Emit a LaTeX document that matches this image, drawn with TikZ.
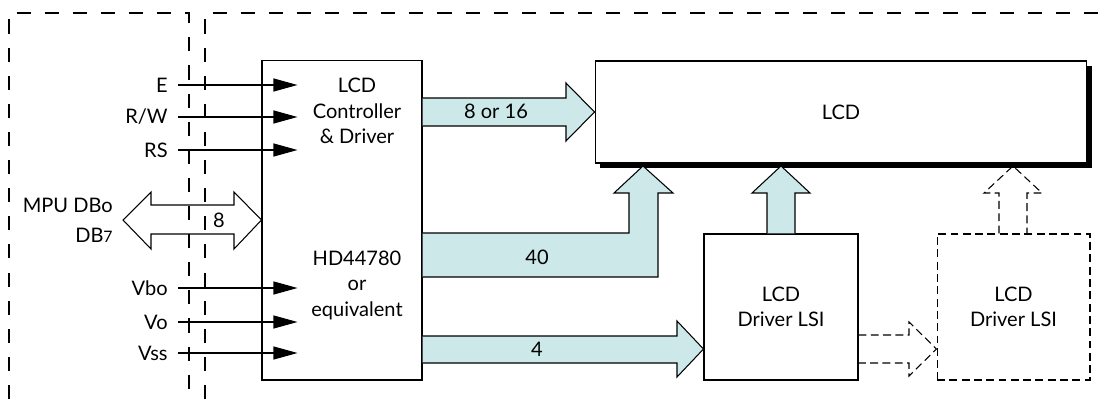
\documentclass[tikz,border=0pt]{standalone}
\usepackage{fontspec}
\setmainfont{Lato}
\usetikzlibrary{arrows.meta, positioning, shadows}

\definecolor{busfill}{RGB}{204,232,232}

\tikzset{
  box/.style={draw, fill=white, line width=0.6pt, align=center},
  ghostbox/.style={draw, line width=0.6pt, dash pattern=on 4.5pt off 2.5pt, align=center},
  sig/.style={line width=0.6pt, -{Triangle[length=0.48cm, width=0.26cm]}},
  siglabel/.style={anchor=east, inner sep=0pt},
  bus/.style={fill=busfill, draw, line width=0.6pt},
  ghostbus/.style={draw, line width=0.6pt, dash pattern=on 4.5pt off 2.5pt},
  frame/.style={line width=0.7pt, dash pattern=on 8pt off 8pt},
  txt/.style={align=center, inner sep=0pt}
}

\begin{document}
\begin{tikzpicture}[x=0.02cm, y=-0.02cm,
  font=\fontsize{11.4pt}{14.5pt}\selectfont]

\useasboundingbox (0,0) rectangle (1105,399);

% --- dashed frames (MPU side and module side) ---
\draw[frame] (9,399) -- (9,13) -- (189,13) -- (189,399);
\draw[frame] (205,399) -- (205,13) -- (1105,13);

% --- blocks ---
\node[box, minimum width=3.2cm, minimum height=6.4cm] (ctrl) at (342,220) {};
\node[txt] (ctrltop) at (357,111) {LCD\\Controller\\\& Driver};
\node[txt] (ctrlbot) at (357,285) {HD44780\\or\\equivalent};

\node[box, minimum width=9.84cm, minimum height=2.04cm,
      drop shadow={fill=black, opacity=1, shadow xshift=0.1cm, shadow yshift=-0.1cm}]
      (lcd) at (841,112) {LCD};

\node[box, minimum width=3.08cm, minimum height=2.92cm] (drv) at (781,307) {LCD\\Driver LSI};
\node[ghostbox, minimum width=3.06cm, minimum height=2.92cm] (drvx) at (1013.5,307) {LCD\\Driver LSI};

% --- control and supply inputs ---
\foreach \name/\y/\txt in {E/85/E, RW/117/{R/W}, RS/150/RS, VDD/288/Vbo, VO/322/Vo, VSS/353/Vss}
{
    \node[siglabel] (l\name) at (168,\y) {\txt};
    \draw[sig] ([xshift=0.2cm]l\name.east) -- ([xshift=0.72cm]ctrl.west |- l\name.east);
}

% --- MPU data bus (8 lines, both ways) ---
\node[siglabel] (ldb0) at (113,205) {MPU DBo};
\node[siglabel] (ldb7) at (113,235) {DB{\small 7}};
\draw[line width=0.6pt] (151,205) -- (234,205) -- (234,192) -- (ctrl.west |- 0,220)
    -- (234,249) -- (234,234) -- (151,234) -- (151,249) -- (123,220) -- (151,192) -- cycle;
\node[txt] (ndb) at (219,220) {8};

% --- buses from the controller ---
% 8 or 16 lines to the LCD
\filldraw[bus] (ctrl.east |- 0,98) -- (566,98) -- (566,83) -- (lcd.west)
    -- (566,141) -- (566,126) -- (ctrl.east |- 0,126);
\node[txt] (n816) at (496,111) {8 or 16};

% 40 lines, round the corner and up
\filldraw[bus] (ctrl.east |- 0,233) -- (629,233) -- (629,193) -- (614,193) -- (643,166)
    -- (673,193) -- (658,193) -- (658,277) -- (ctrl.east |- 0,277);
\node[txt] (n40) at (537,257) {40};

% 4 lines to the driver LSI
\filldraw[bus] (ctrl.east |- 0,336) -- (677,336) -- (677,321) -- (drv.west |- 0,349)
    -- (677,377) -- (677,363) -- (ctrl.east |- 0,363);
\node[txt] (n4) at (537,349) {4};

% --- driver outputs ---
\filldraw[bus] (767,0 |- drv.north) -- (767,193) -- (752,193) -- (781,166)
    -- (810,193) -- (795,193) -- (795,0 |- drv.north);

% optional extra driver
\draw[ghostbus] (999,0 |- drvx.north) -- (999,193) -- (984,193) -- (1013,166)
    -- (1042,193) -- (1027,193) -- (1027,0 |- drvx.north);
\draw[ghostbus] (drv.east |- 0,335) -- (909,335) -- (909,322) -- (drvx.west |- 0,349)
    -- (909,376) -- (909,363) -- (drv.east |- 0,363);

\end{tikzpicture}
\end{document}
